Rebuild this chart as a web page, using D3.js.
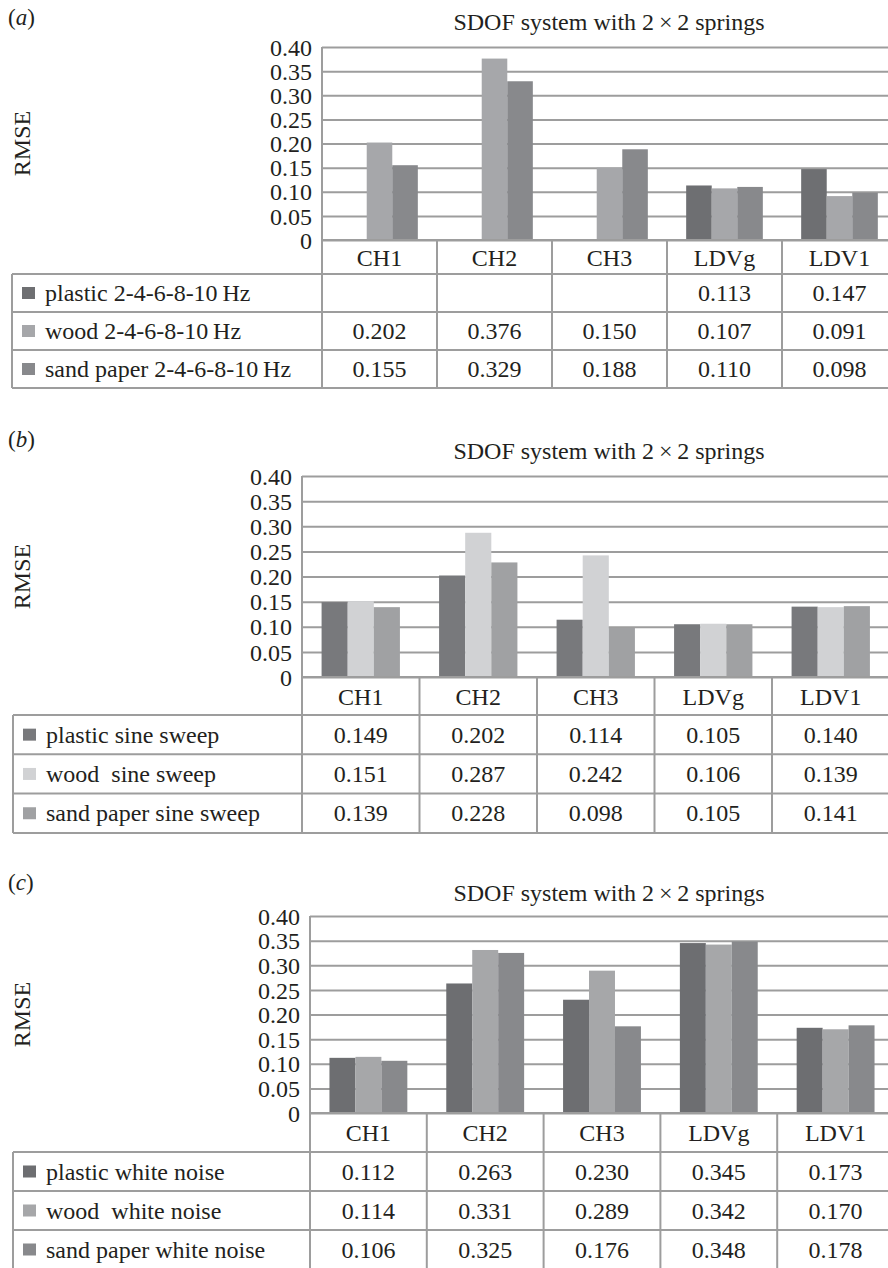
<!DOCTYPE html>
<html>
<head>
<meta charset="utf-8">
<script src="https://cdn.jsdelivr.net/npm/d3@7"></script>
<style>
  html, body { margin: 0; padding: 0; background: #fff; }
  svg { display: block; }
  text { font-family: "Liberation Serif", "Times New Roman", serif; fill: #231f20; }
</style>
</head>
<body>
<svg id="chart" width="888" height="1268"></svg>
<script>
// ---------- data ----------
const categories = ["CH1", "CH2", "CH3", "LDVg", "LDV1"];
const yTickValues = [0, 0.05, 0.10, 0.15, 0.20, 0.25, 0.30, 0.35, 0.40];
const titleText = "SDOF system with 2\u2009\u00d7\u20092 springs";
const yLabel = "RMSE";

// panel (a)
const seriesA = ["plastic 2-4-6-8-10\u2009Hz", "wood 2-4-6-8-10\u2009Hz", "sand paper 2-4-6-8-10\u2009Hz"];
const plasticA = [null, null, null, 0.113, 0.147];
const woodA    = [0.202, 0.376, 0.150, 0.107, 0.091];
const sandA    = [0.155, 0.329, 0.188, 0.110, 0.098];

// panel (b)
const seriesB = ["plastic sine sweep", "wood\u2002sine sweep", "sand paper sine sweep"];
const plasticB = [0.149, 0.202, 0.114, 0.105, 0.140];
const woodB    = [0.151, 0.287, 0.242, 0.106, 0.139];
const sandB    = [0.139, 0.228, 0.098, 0.105, 0.141];

// panel (c)
const seriesC = ["plastic white noise", "wood\u2002white noise", "sand paper white noise"];
const plasticC = [0.112, 0.263, 0.230, 0.345, 0.173];
const woodC    = [0.114, 0.331, 0.289, 0.342, 0.170];
const sandC    = [0.106, 0.325, 0.176, 0.348, 0.178];

// ---------- layout / style ----------
const panels = [
  { tag: "a", names: seriesA, values: [plasticA, woodA, sandA],
    colors: ["#6e6f72", "#a6a7aa", "#88898c"],
    labelY: 25, titleY: 30, left: 322, top: 47, bottom: 240, colW: 115,
    headerH: 34, rowH: 38, tableLeft: 12 },
  { tag: "b", names: seriesB, values: [plasticB, woodB, sandB],
    colors: ["#78797c", "#d1d2d4", "#a0a1a3"],
    labelY: 447, titleY: 459, left: 302, top: 476, bottom: 677, colW: 117.5,
    headerH: 38, rowH: 39.3, tableLeft: 13 },
  { tag: "c", names: seriesC, values: [plasticC, woodC, sandC],
    colors: ["#6d6e71", "#a6a7a9", "#88898c"],
    labelY: 890, titleY: 901, left: 310, top: 916, bottom: 1113, colW: 116.8,
    headerH: 39, rowH: 39, tableLeft: 13 }
];

const FS = 24;
const lineColor = "#9d9d9d";
const lineW = 2;
const svg = d3.select("#chart");
const fmtTick = v => v === 0 ? "0" : d3.format(".2f")(v);
const fmtVal = d3.format(".3f");

panels.forEach(p => {
  const g = svg.append("g");
  const right = p.left + p.colW * categories.length;
  const x = d3.scaleBand().domain(categories).range([p.left, right]).padding(0);
  const xs = d3.scaleBand().domain(d3.range(p.names.length)).range([0, x.bandwidth()])
    .paddingInner(0).paddingOuter(0.75);
  const y = d3.scaleLinear().domain([0, 0.40]).range([p.bottom, p.top]);

  // panel label (a)
  const lab = g.append("text").attr("x", 8).attr("y", p.labelY).attr("font-size", 23);
  lab.append("tspan").text("(");
  lab.append("tspan").attr("font-style", "italic").text(p.tag);
  lab.append("tspan").text(")");

  // title
  g.append("text").attr("x", 609).attr("y", p.titleY)
    .attr("text-anchor", "middle").attr("font-size", FS).text(titleText);

  // y label
  g.append("text")
    .attr("transform", `translate(${22 + FS * 0.33},${(p.top + p.bottom) / 2}) rotate(-90)`)
    .attr("text-anchor", "middle").attr("font-size", FS).text(yLabel);

  // gridlines
  const grid = g.append("g").attr("transform", `translate(${p.left},0)`)
    .call(d3.axisLeft(y).tickValues(yTickValues).tickSize(-(right - p.left)).tickFormat(""));
  grid.select(".domain").remove();
  grid.selectAll(".tick line").attr("stroke", lineColor).attr("stroke-width", lineW);

  // tick labels
  const ax = g.append("g").attr("transform", `translate(${p.left},0)`)
    .call(d3.axisLeft(y).tickValues(yTickValues).tickSize(0).tickPadding(10).tickFormat(fmtTick));
  ax.select(".domain").remove();
  ax.selectAll("text").attr("font-size", FS).attr("font-family", "Liberation Serif, Times New Roman, serif")
    .attr("fill", "#231f20").attr("dy", "0.34em");

  // bars
  p.values.forEach((vals, si) => {
    g.append("g").selectAll("rect")
      .data(categories.map((c, i) => ({ c, v: vals[i] })).filter(d => d.v != null))
      .join("rect")
      .attr("x", d => x(d.c) + xs(si))
      .attr("width", xs.bandwidth())
      .attr("y", d => y(d.v))
      .attr("height", d => y(0) - y(d.v))
      .attr("fill", p.colors[si]);
  });

  // ---------- data table ----------
  const headTop = p.bottom;
  const rowsTop = headTop + p.headerH;
  const tableBottom = rowsTop + p.rowH * p.names.length;
  const tl = g.append("g").attr("stroke", lineColor).attr("stroke-width", lineW);

  tl.append("line").attr("x1", p.left).attr("x2", right).attr("y1", headTop).attr("y2", headTop);
  for (let r = 0; r <= p.names.length; r++) {
    const yy = rowsTop + r * p.rowH;
    tl.append("line").attr("x1", p.tableLeft).attr("x2", right).attr("y1", yy).attr("y2", yy);
  }
  tl.append("line").attr("x1", p.tableLeft).attr("x2", p.tableLeft).attr("y1", rowsTop).attr("y2", tableBottom);
  tl.append("line").attr("x1", p.left).attr("x2", p.left).attr("y1", p.top).attr("y2", tableBottom);
  categories.forEach((c, i) => {
    const xx = x(c) + x.bandwidth();
    tl.append("line").attr("x1", xx).attr("x2", xx).attr("y1", headTop).attr("y2", tableBottom);
  });

  // header labels
  g.append("g").selectAll("text").data(categories).join("text")
    .attr("x", d => x(d) + x.bandwidth() / 2)
    .attr("y", headTop + p.headerH / 2 + 8.5)
    .attr("text-anchor", "middle").attr("font-size", FS).text(d => d);

  // rows
  p.names.forEach((name, si) => {
    const cy = rowsTop + si * p.rowH + p.rowH / 2;
    g.append("rect").attr("x", p.tableLeft + 10).attr("y", cy - 6).attr("width", 13).attr("height", 12)
      .attr("fill", p.colors[si]);
    g.append("text").attr("x", p.tableLeft + 33).attr("y", cy + 8)
      .attr("font-size", FS).text(name);
    g.append("g").selectAll("text")
      .data(categories.map((c, i) => ({ c, v: p.values[si][i] })).filter(d => d.v != null))
      .join("text")
      .attr("x", d => x(d.c) + x.bandwidth() / 2)
      .attr("y", cy + 8)
      .attr("text-anchor", "middle").attr("font-size", FS).text(d => fmtVal(d.v));
  });
});
</script>
</body>
</html>
